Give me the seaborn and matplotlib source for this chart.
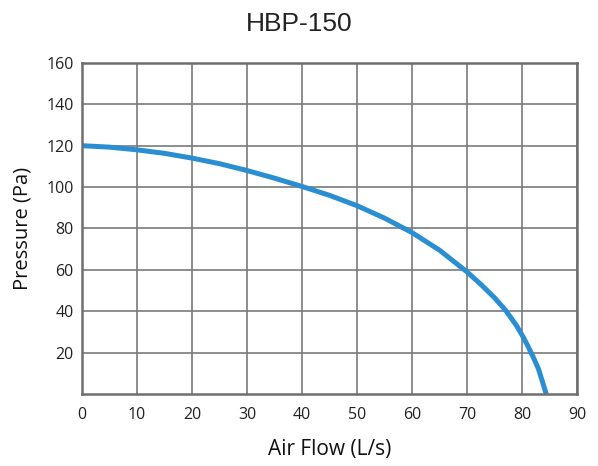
import matplotlib
matplotlib.use("Agg")
import matplotlib.pyplot as plt
import seaborn as sns
import pandas as pd

# ---------------------------------
# Data
# ---------------------------------
air_flow = [0, 5, 10, 15, 20, 25, 30, 35, 40, 45, 50, 55, 60, 65, 70, 72.5, 75, 77, 79, 80, 81, 82, 83, 84.4]
pressure = [120, 119.3, 118, 116.3, 114, 111.3, 108, 104.3, 100.3, 96, 91, 85, 78, 69.5, 59, 53, 46.5, 40.5, 33, 28.5, 23.5, 18, 12, 0]
x_ticks = [0, 10, 20, 30, 40, 50, 60, 70, 80, 90]
y_ticks = [20, 40, 60, 80, 100, 120, 140, 160]

df = pd.DataFrame({"Air Flow (L/s)": air_flow, "Pressure (Pa)": pressure})

sns.set_style("white")
plt.rcParams["font.family"] = ["Open Sans", "DejaVu Sans"]

fig = plt.figure(figsize=(5.98, 4.66), dpi=100)
ax = fig.add_axes([0.137, 0.1545, 0.828, 0.7105])

line = sns.lineplot(data=df, x="Air Flow (L/s)", y="Pressure (Pa)", ax=ax,
                    color="#2a8fd2", linewidth=3.6, sort=False)
for ln in ax.lines:
    ln.set_solid_joinstyle("round")
    ln.set_solid_capstyle("butt")

ax.set_xlim(0, 90)
ax.set_ylim(0, 160)
ax.set_xticks(x_ticks)
ax.set_yticks(y_ticks)
ax.grid(True, color="#7a7a7a", linewidth=1.2)
ax.tick_params(length=0, labelsize=11.5, colors="#222222")
ax.tick_params(axis="x", pad=9)
ax.tick_params(axis="y", pad=6)
for s in ax.spines.values():
    s.set_color("#6e6e6e")
    s.set_linewidth(1.8)

ax.set_xlabel("Air Flow (L/s)", fontsize=15, color="#111111", labelpad=12)
ax.set_ylabel("Pressure (Pa)", fontsize=14.5, color="#111111", labelpad=10)
fig.suptitle("HBP-150", fontsize=19, family="Liberation Sans", color="#222222", y=0.975)

fig.savefig("out.png", dpi=100)
